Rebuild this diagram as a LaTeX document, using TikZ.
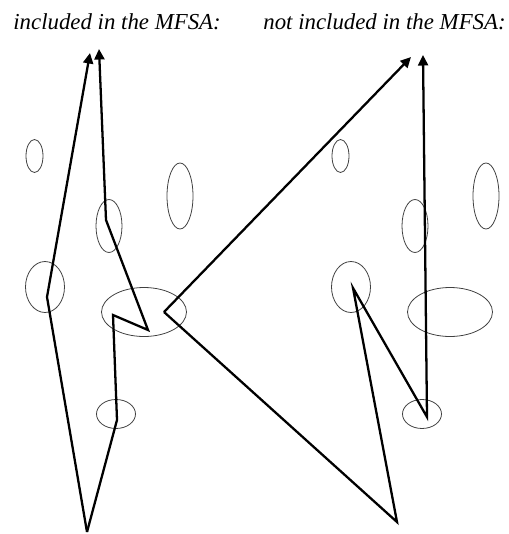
\documentclass[tikz,border=0pt]{standalone}
\usepackage{fontspec}
\setmainfont{Liberation Serif}
\usetikzlibrary{arrows.meta, shapes.geometric}

\begin{document}
\begin{tikzpicture}[
        x=0.02cm, y=-0.02cm,
        blob/.style={ellipse, draw=black!75, line width=0.45pt, inner sep=0pt},
        arr/.style={-{Triangle[length=0.21cm, width=0.2cm]}, line width=1.3pt},
        head/.style={anchor=base west, inner sep=0pt,
                     font=\fontsize{13}{15}\selectfont\itshape}
    ]
        \useasboundingbox (0,0) rectangle (509,534);
        \node[head] (inc) at (13,30) {included in the MFSA:};
        \node[head] (notinc) at (263,30) {not included in the MFSA:};
        % the same six cells in both panels
        \foreach \dx/\p in {0/l, 306/r} {
            \node[blob, minimum width=0.34cm, minimum height=0.66cm] (\p a) at (34.5+\dx,156) {};
            \node[blob, minimum width=0.52cm, minimum height=1.32cm] (\p b) at (180+\dx,196) {};
            \node[blob, minimum width=0.52cm, minimum height=1.06cm] (\p c) at (109+\dx,226) {};
            \node[blob, minimum width=0.78cm, minimum height=1.02cm] (\p d) at (45+\dx,287) {};
            \node[blob, minimum width=1.70cm, minimum height=0.98cm] (\p e) at (144+\dx,312) {};
            \node[blob, minimum width=0.78cm, minimum height=0.58cm] (\p f) at (116+\dx,414) {};
        }
        % turning points
        \coordinate (lbot) at (87,532);
        \coordinate (lv1) at (47,297);
        \coordinate (ltipa) at (90,53);
        \coordinate (lv2) at (117,420);
        \coordinate (lv3) at (113,315);
        \coordinate (lv4) at (148,330);
        \coordinate (lv5) at (106,220);
        \coordinate (ltipb) at (99,49);
        \coordinate (rv0) at (164,312);
        \coordinate (rtipa) at (411,57);
        \coordinate (rbot) at (397,522);
        \coordinate (rv1) at (353,288);
        \coordinate (rv2) at (427,417);
        \coordinate (rtipb) at (423,55);
        \draw[arr] (lbot) -- (lv1) -- (ltipa);
        \draw[arr] (lbot) -- (lv2) -- (lv3) -- (lv4) -- (lv5) -- (ltipb);
        \draw[arr] (rv0) -- (rtipa);
        \draw[arr] (rv0) -- (rbot) -- (rv1) -- (rv2) -- (rtipb);
    \end{tikzpicture}
\end{document}
